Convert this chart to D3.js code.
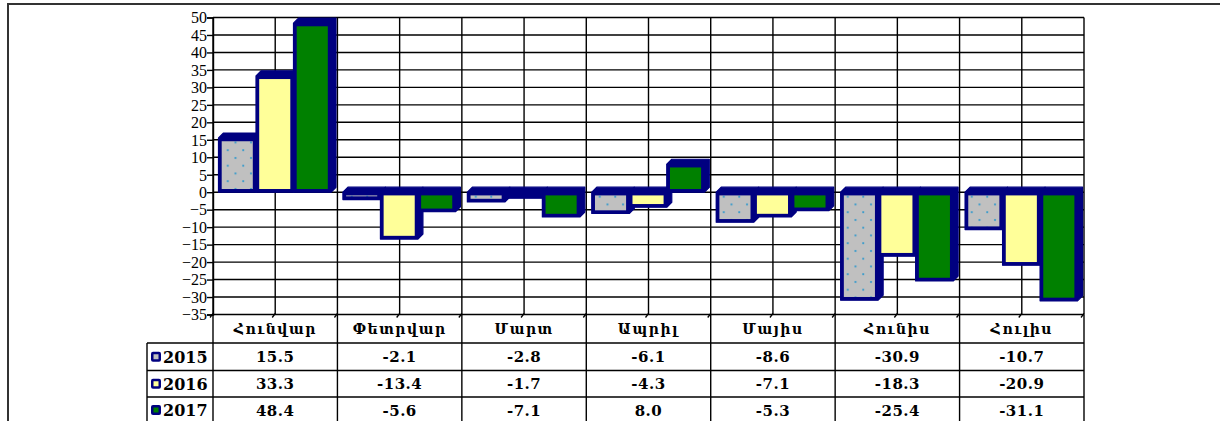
<!DOCTYPE html>
<html>
<head>
<meta charset="utf-8">
<script src="https://cdn.jsdelivr.net/npm/d3@7"></script>
<style>
  body { margin: 0; background: #fff; }
  svg { display: block; }
</style>
</head>
<body>
<div id="chart"></div>
<script>
// data
const months = ["Հունվար", "Փետրվար", "Մարտ", "Ապրիլ", "Մայիս", "Հունիս", "Հուլիս"];
const years = ["2015", "2016", "2017"];
const v2015 = [15.5, -2.1, -2.8, -6.1, -8.6, -30.9, -10.7];
const v2016 = [33.3, -13.4, -1.7, -4.3, -7.1, -18.3, -20.9];
const v2017 = [48.4, -5.6, -7.1, 8.0, -5.3, -25.4, -31.1];
const yTicks = d3.range(-35, 51, 5);

const seriesValues = [v2015, v2016, v2017];
const fills = ["url(#dots)", "#ffff99", "#008000"];
const keyFills = ["#c0c0c0", "#ffff99", "#008000"];
const navy = "#000080";

const W = 1220, H = 421;
const svg = d3.select("#chart").append("svg").attr("width", W).attr("height", H);

// dotted gray pattern for 2015
const defs = svg.append("defs");
const pat = defs.append("pattern").attr("id", "dots").attr("patternUnits", "userSpaceOnUse")
    .attr("width", 15.5).attr("height", 15.5);
pat.append("rect").attr("width", 15.5).attr("height", 15.5).attr("fill", "#c0c0c0");
pat.append("circle").attr("cx", 3).attr("cy", 3).attr("r", 1.1).attr("fill", "#3399cc");
pat.append("circle").attr("cx", 10.75).attr("cy", 10.75).attr("r", 1.1).attr("fill", "#3399cc");

// outer frame
svg.append("path").attr("d", `M8,${H}V4H${W}`).attr("fill", "none")
    .attr("stroke", "#333").attr("stroke-width", 2);

const x = d3.scaleBand().domain(months).range([213, 1084]).padding(0);
const y = d3.scaleLinear().domain([-35, 50]).range([314.5, 17.5]);
const bw = 37.5, gOff = 5.5, depth = 5, inset = 3.2;

// horizontal gridlines
svg.append("g").selectAll("line").data(yTicks).join("line")
    .attr("x1", 213).attr("x2", 1084)
    .attr("y1", d => y(d)).attr("y2", d => y(d))
    .attr("stroke", "#000").attr("stroke-width", 1.4);

// vertical gridlines at category edges and centres
const vLines = [];
months.forEach(m => { vLines.push(x(m)); vLines.push(x(m) + x.bandwidth() / 2); });
vLines.push(x.range()[1]);
svg.append("g").selectAll("line").data(vLines).join("line")
    .attr("x1", d => d).attr("x2", d => d)
    .attr("y1", y(50)).attr("y2", y(-35))
    .attr("stroke", "#000").attr("stroke-width", 1.4);

// y axis
const yAxis = svg.append("g").attr("transform", "translate(213,0)")
    .call(d3.axisLeft(y).tickValues(yTicks).tickSize(6).tickPadding(0).tickFormat(d3.format("d")));
yAxis.select(".domain").attr("stroke", "#000").attr("stroke-width", 1.4);
yAxis.selectAll(".tick line").attr("stroke", "#000").attr("stroke-width", 1.4);
yAxis.selectAll(".tick text").attr("font-family", "Liberation Serif").attr("font-size", 16)
    .attr("fill", "#000").attr("dy", "0.33em");

// little slanted ticks on the category axis
svg.append("g").selectAll("path").data(vLines).join("path")
    .attr("d", d => `M${d},${y(-35) - 1}l-3,4`)
    .attr("stroke", "#000").attr("stroke-width", 1.3);

// bars with the navy 3D edge
const barsG = svg.append("g");
months.forEach((m, i) => {
    seriesValues.forEach((vals, s) => {
        const v = vals[i];
        const x0 = x(m) + gOff + s * bw, x1 = x0 + bw;
        const yt = y(Math.max(0, v)), yb = y(Math.min(0, v));
        const outline = `M${x0},${yb}V${yt}L${x0 + depth},${yt - depth}H${x1 + depth}V${yb - depth}L${x1},${yb}Z`;
        barsG.append("path").attr("d", outline).attr("fill", navy)
            .attr("stroke", navy).attr("stroke-width", 1.2).attr("stroke-linejoin", "round");
        barsG.append("rect").attr("x", x0).attr("y", yt).attr("width", bw).attr("height", yb - yt)
            .attr("fill", navy);
        barsG.append("rect")
            .attr("x", x0 + inset).attr("y", yt + inset)
            .attr("width", Math.max(0, bw - 2 * inset)).attr("height", Math.max(0, yb - yt - 2 * inset))
            .attr("fill", fills[s]);
    });
});

// data table
const rowY = [314.5, 343, 370.5, 397, 440];
const tbl = svg.append("g");
const lineStyle = sel => sel.attr("stroke", "#000").attr("stroke-width", 1.4);
// horizontal rules
rowY.slice(1, 4).forEach(yy => {
    tbl.append("line").attr("x1", 147).attr("x2", 1084).attr("y1", yy).attr("y2", yy).call(lineStyle);
});
// vertical rules
[...months.map(m => x(m)), x.range()[1]].forEach(xx => {
    tbl.append("line").attr("x1", xx).attr("x2", xx).attr("y1", rowY[0]).attr("y2", H).call(lineStyle);
});
tbl.append("line").attr("x1", 147).attr("x2", 147).attr("y1", rowY[1]).attr("y2", H).call(lineStyle);

// month headers
tbl.selectAll("text.month").data(months).join("text").attr("class", "month")
    .attr("x", d => x(d) + x.bandwidth() / 2).attr("y", (rowY[0] + rowY[1]) / 2 + 5)
    .attr("text-anchor", "middle").attr("font-family", "DejaVu Serif").attr("font-weight", "bold")
    .attr("font-size", 14).attr("letter-spacing", 1.5).text(d => d);

// value rows with legend keys
years.forEach((yr, s) => {
    const cy = (rowY[s + 1] + Math.min(rowY[s + 2], 423)) / 2;
    tbl.append("rect").attr("x", 151).attr("y", cy - 5).attr("width", 10).attr("height", 10)
        .attr("fill", navy).attr("rx", 2);
    tbl.append("rect").attr("x", 153.5).attr("y", cy - 2.5).attr("width", 5).attr("height", 5)
        .attr("fill", keyFills[s]);
    tbl.append("text").attr("x", 163).attr("y", cy + 6)
        .attr("font-family", "DejaVu Serif").attr("font-weight", "bold").attr("font-size", 16)
        .text(yr);
    tbl.selectAll(`text.v${s}`).data(seriesValues[s]).join("text").attr("class", `v${s}`)
        .attr("x", (d, i) => x(months[i]) + x.bandwidth() / 2).attr("y", cy + 5.5)
        .attr("text-anchor", "middle").attr("font-family", "DejaVu Serif").attr("font-weight", "bold")
        .attr("font-size", 15).attr("letter-spacing", 0.5)
        .text(d => d.toFixed(1));
});
</script>
</body>
</html>
